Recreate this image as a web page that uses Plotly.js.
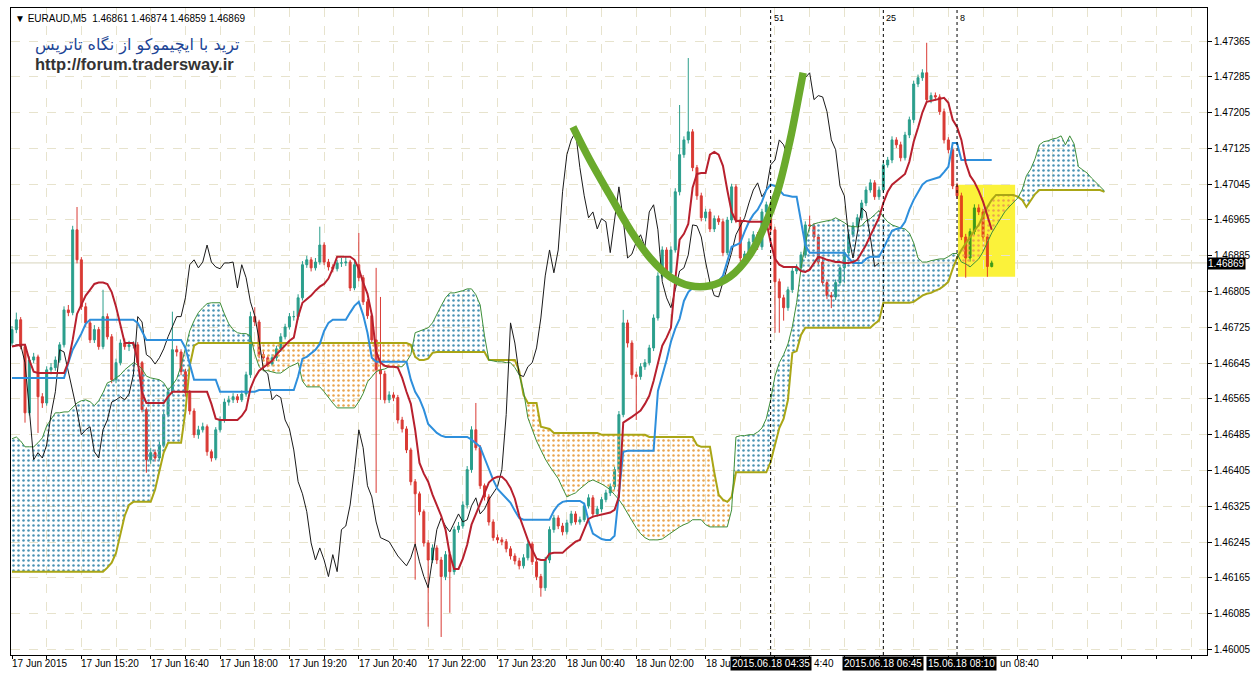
<!DOCTYPE html>
<html><head><meta charset="utf-8">
<script src="https://cdn.plot.ly/plotly-3.0.1.min.js"></script>
<style>html,body{margin:0;padding:0;background:#fff}#chart{width:1251px;height:673px}</style>
</head><body><div id="chart"></div>
<script>
// EURAUD M5, bar 0 = 17 Jun 2015 14:00, one bar per 5 minutes
const opens = [1.46690,1.46720,1.46742,1.46682,1.46534,1.46652,1.46659,1.46570,1.46556,1.46630,
1.46635,1.46652,1.46686,1.46764,1.46758,1.46943,1.46876,1.46771,1.46735,1.46697,
1.46720,1.46682,1.46749,1.46704,1.46608,1.46646,1.46690,1.46682,1.46686,1.46686,
1.46646,1.46541,1.46429,1.46445,1.46433,1.46462,1.46530,1.46581,1.46675,1.46670,
1.46626,1.46579,1.46538,1.46485,1.46496,1.46503,1.46447,1.46433,1.46496,1.46518,
1.46558,1.46563,1.46570,1.46563,1.46576,1.46619,1.46749,1.46737,1.46664,1.46657,
1.46643,1.46657,1.46677,1.46704,1.46726,1.46749,1.46749,1.46791,1.46865,1.46876,
1.46858,1.46871,1.46909,1.46871,1.46860,1.46856,1.46869,1.46869,1.46871,1.46813,
1.46865,1.46836,1.46782,1.46751,1.46697,1.46630,1.46621,1.46563,1.46574,1.46568,
1.46518,1.46498,1.46451,1.46380,1.46353,1.46313,1.46243,1.46205,1.46232,1.46205,
1.46168,1.46217,1.46179,1.46273,1.46281,1.46328,1.46407,1.46496,1.46456,1.46371,
1.46346,1.46290,1.46255,1.46250,1.46246,1.46230,1.46214,1.46203,1.46192,1.46210,
1.46241,1.46201,1.46168,1.46143,1.46205,1.46273,1.46299,1.46281,1.46268,1.46288,
1.46308,1.46290,1.46295,1.46326,1.46344,1.46308,1.46319,1.46340,1.46355,1.46369,
1.46407,1.46530,1.46735,1.46690,1.46619,1.46615,1.46637,1.46646,1.46679,1.46746,
1.46840,1.46898,1.46847,1.46898,1.47028,1.47111,1.47144,1.47162,1.47082,1.47019,
1.46970,1.46983,1.46945,1.46968,1.46961,1.46892,1.46965,1.47039,1.46965,1.46880,
1.46889,1.46916,1.46932,1.46905,1.46983,1.46999,1.46943,1.46827,1.46791,1.46769,
1.46809,1.46851,1.46858,1.46887,1.46954,1.46952,1.46927,1.46871,1.46825,1.46796,
1.46793,1.46825,1.46858,1.46892,1.46932,1.46952,1.46970,1.47003,1.47032,1.47048,
1.47017,1.47032,1.47088,1.47099,1.47144,1.47133,1.47104,1.47155,1.47189,1.47269,
1.47283,1.47294,1.47234,1.47243,1.47240,1.47207,1.47144,1.47122,1.47041,1.47019,
1.46927,1.46880,1.46939,1.46992,1.46983,1.46927,1.46861];

const highs = [1.46728,1.46758,1.46748,1.46688,1.46660,1.46668,1.46664,1.46578,1.46638,1.46645,
1.46660,1.46692,1.46772,1.46775,1.46952,1.46994,1.46882,1.46780,1.46742,1.46730,
1.46726,1.46809,1.46756,1.46710,1.46655,1.46698,1.46700,1.46695,1.46694,1.46692,
1.46650,1.46546,1.46455,1.46452,1.46470,1.46538,1.46590,1.46760,1.46684,1.46676,
1.46632,1.46585,1.46544,1.46505,1.46512,1.46508,1.46452,1.46502,1.46526,1.46566,
1.46572,1.46578,1.46576,1.46584,1.46626,1.46760,1.46770,1.46742,1.46672,1.46662,
1.46665,1.46684,1.46712,1.46733,1.46757,1.46762,1.46799,1.46873,1.46885,1.46882,
1.46880,1.46950,1.46915,1.46878,1.46866,1.46876,1.46880,1.46882,1.46876,1.46872,
1.46936,1.46842,1.46788,1.46756,1.46858,1.46793,1.46628,1.46582,1.46580,1.46574,
1.46525,1.46504,1.46456,1.46386,1.46358,1.46318,1.46250,1.46240,1.46238,1.46212,
1.46225,1.46224,1.46280,1.46290,1.46336,1.46415,1.46504,1.46556,1.46462,1.46376,
1.46352,1.46296,1.46262,1.46256,1.46252,1.46236,1.46220,1.46210,1.46218,1.46248,
1.46246,1.46206,1.46174,1.46212,1.46280,1.46306,1.46305,1.46288,1.46295,1.46315,
1.46314,1.46302,1.46333,1.46352,1.46350,1.46326,1.46346,1.46362,1.46376,1.46414,
1.46538,1.46764,1.46742,1.46696,1.46626,1.46645,1.46654,1.46686,1.46754,1.46848,
1.46906,1.46904,1.46906,1.47036,1.47222,1.47152,1.47327,1.47168,1.47088,1.47026,
1.46990,1.46990,1.46975,1.46975,1.46968,1.46972,1.47046,1.47045,1.46972,1.46896,
1.46924,1.46940,1.46938,1.46990,1.47006,1.47005,1.46950,1.46834,1.46798,1.46816,
1.46858,1.46866,1.46894,1.46962,1.46975,1.46958,1.46934,1.46878,1.46832,1.46804,
1.46832,1.46865,1.46900,1.46940,1.46960,1.46978,1.47010,1.47040,1.47056,1.47054,
1.47040,1.47096,1.47106,1.47152,1.47150,1.47140,1.47162,1.47196,1.47276,1.47290,
1.47302,1.47361,1.47250,1.47250,1.47246,1.47214,1.47150,1.47128,1.47048,1.47026,
1.46934,1.46946,1.47000,1.47000,1.46990,1.46934,1.46874];

const lows = [1.46684,1.46712,1.46676,1.46512,1.46528,1.46645,1.46489,1.46545,1.46550,1.46620,
1.46628,1.46646,1.46680,1.46750,1.46752,1.46868,1.46764,1.46726,1.46690,1.46690,
1.46675,1.46676,1.46698,1.46600,1.46600,1.46640,1.46675,1.46672,1.46678,1.46638,
1.46535,1.46400,1.46420,1.46425,1.46428,1.46456,1.46524,1.46575,1.46660,1.46618,
1.46570,1.46530,1.46478,1.46476,1.46490,1.46438,1.46425,1.46428,1.46490,1.46512,
1.46550,1.46556,1.46556,1.46558,1.46570,1.46612,1.46728,1.46656,1.46650,1.46636,
1.46638,1.46650,1.46670,1.46698,1.46720,1.46740,1.46742,1.46785,1.46858,1.46850,
1.46852,1.46865,1.46864,1.46852,1.46848,1.46850,1.46860,1.46862,1.46806,1.46808,
1.46828,1.46775,1.46744,1.46690,1.46355,1.46563,1.46555,1.46556,1.46560,1.46510,
1.46490,1.46444,1.46372,1.46161,1.46305,1.46235,1.46056,1.46198,1.46196,1.46033,
1.46160,1.46087,1.46172,1.46266,1.46275,1.46320,1.46400,1.46450,1.46364,1.46338,
1.46282,1.46248,1.46242,1.46238,1.46222,1.46206,1.46195,1.46184,1.46186,1.46204,
1.46194,1.46160,1.46123,1.46136,1.46198,1.46266,1.46274,1.46260,1.46262,1.46282,
1.46284,1.46284,1.46290,1.46320,1.46300,1.46302,1.46312,1.46334,1.46348,1.46362,
1.46400,1.46524,1.46680,1.46610,1.46518,1.46608,1.46630,1.46640,1.46672,1.46740,
1.46834,1.46840,1.46840,1.46892,1.47020,1.47104,1.47136,1.47074,1.47010,1.46962,
1.46962,1.46938,1.46938,1.46954,1.46884,1.46886,1.46958,1.46958,1.46872,1.46872,
1.46882,1.46910,1.46898,1.46898,1.46976,1.46935,1.46713,1.46713,1.46740,1.46762,
1.46802,1.46844,1.46850,1.46880,1.46944,1.46920,1.46864,1.46818,1.46788,1.46768,
1.46786,1.46818,1.46825,1.46886,1.46926,1.46946,1.46964,1.46996,1.47026,1.47010,
1.47010,1.47026,1.47082,1.47092,1.47126,1.47096,1.47098,1.47148,1.47182,1.47262,
1.47276,1.47226,1.47226,1.47232,1.47200,1.47136,1.47114,1.47034,1.47012,1.46920,
1.46836,1.46872,1.46932,1.46976,1.46920,1.46838,1.46859];

const closes = [1.46720,1.46742,1.46682,1.46534,1.46652,1.46659,1.46570,1.46556,1.46630,1.46635,
1.46652,1.46686,1.46764,1.46758,1.46943,1.46876,1.46771,1.46735,1.46697,1.46720,
1.46682,1.46749,1.46704,1.46608,1.46646,1.46690,1.46682,1.46686,1.46686,1.46646,
1.46541,1.46429,1.46445,1.46433,1.46462,1.46530,1.46581,1.46675,1.46670,1.46626,
1.46579,1.46538,1.46485,1.46496,1.46503,1.46447,1.46433,1.46496,1.46518,1.46558,
1.46563,1.46570,1.46563,1.46576,1.46619,1.46749,1.46737,1.46664,1.46657,1.46643,
1.46657,1.46677,1.46704,1.46726,1.46749,1.46749,1.46791,1.46865,1.46876,1.46858,
1.46871,1.46909,1.46871,1.46860,1.46856,1.46869,1.46869,1.46871,1.46813,1.46865,
1.46836,1.46782,1.46751,1.46697,1.46630,1.46621,1.46563,1.46574,1.46568,1.46518,
1.46498,1.46451,1.46380,1.46353,1.46313,1.46243,1.46205,1.46232,1.46205,1.46168,
1.46217,1.46179,1.46273,1.46281,1.46328,1.46407,1.46496,1.46456,1.46371,1.46346,
1.46290,1.46255,1.46250,1.46246,1.46230,1.46214,1.46203,1.46192,1.46210,1.46241,
1.46201,1.46168,1.46143,1.46205,1.46273,1.46299,1.46281,1.46268,1.46288,1.46308,
1.46290,1.46295,1.46326,1.46344,1.46308,1.46319,1.46340,1.46355,1.46369,1.46407,
1.46530,1.46735,1.46690,1.46619,1.46615,1.46637,1.46646,1.46679,1.46746,1.46840,
1.46898,1.46847,1.46898,1.47028,1.47111,1.47144,1.47162,1.47082,1.47019,1.46970,
1.46983,1.46945,1.46968,1.46961,1.46892,1.46965,1.47039,1.46965,1.46880,1.46889,
1.46916,1.46932,1.46905,1.46983,1.46999,1.46943,1.46827,1.46791,1.46769,1.46809,
1.46851,1.46858,1.46887,1.46954,1.46952,1.46927,1.46871,1.46825,1.46796,1.46793,
1.46825,1.46858,1.46892,1.46932,1.46952,1.46970,1.47003,1.47032,1.47048,1.47017,
1.47032,1.47088,1.47099,1.47144,1.47133,1.47104,1.47155,1.47189,1.47269,1.47283,
1.47294,1.47234,1.47243,1.47240,1.47207,1.47144,1.47122,1.47041,1.47019,1.46927,
1.46880,1.46939,1.46992,1.46983,1.46927,1.46861,1.46869];

const tenkan = [1.46682,1.46684,1.46686,1.46686,1.46652,1.46626,1.46623,1.46623,1.46623,1.46623,
1.46623,1.46623,1.46623,1.46648,1.46697,1.46755,1.46775,1.46796,1.46809,1.46822,
1.46825,1.46825,1.46822,1.46804,1.46771,1.46733,1.46690,1.46690,1.46690,1.46650,
1.46579,1.46556,1.46556,1.46556,1.46556,1.46556,1.46570,1.46581,1.46581,1.46581,
1.46581,1.46581,1.46581,1.46581,1.46581,1.46581,1.46554,1.46521,1.46518,1.46518,
1.46518,1.46518,1.46518,1.46527,1.46541,1.46588,1.46612,1.46628,1.46635,1.46641,
1.46650,1.46664,1.46675,1.46686,1.46695,1.46702,1.46749,1.46780,1.46787,1.46796,
1.46807,1.46816,1.46822,1.46834,1.46856,1.46883,1.46883,1.46883,1.46883,1.46876,
1.46856,1.46825,1.46800,1.46753,1.46670,1.46646,1.46639,1.46637,1.46637,1.46635,
1.46612,1.46581,1.46554,1.46496,1.46422,1.46398,1.46380,1.46351,1.46326,1.46304,
1.46273,1.46217,1.46185,1.46185,1.46208,1.46239,1.46284,1.46308,1.46333,1.46353,
1.46378,1.46387,1.46391,1.46391,1.46382,1.46366,1.46342,1.46304,1.46277,1.46250,
1.46228,1.46208,1.46205,1.46205,1.46219,1.46221,1.46221,1.46221,1.46230,1.46239,
1.46246,1.46250,1.46275,1.46297,1.46302,1.46304,1.46306,1.46308,1.46311,1.46317,
1.46346,1.46512,1.46518,1.46525,1.46532,1.46539,1.46554,1.46572,1.46605,1.46646,
1.46684,1.46702,1.46724,1.46831,1.46921,1.46934,1.46956,1.47037,1.47068,1.47070,
1.47070,1.47111,1.47117,1.47111,1.47086,1.47032,1.46983,1.46963,1.46963,1.46963,
1.46961,1.46961,1.46961,1.46961,1.46961,1.46916,1.46878,1.46865,1.46860,1.46860,
1.46860,1.46860,1.46851,1.46849,1.46854,1.46869,1.46883,1.46880,1.46876,1.46874,
1.46871,1.46871,1.46869,1.46869,1.46871,1.46876,1.46892,1.46909,1.46930,1.46950,
1.46970,1.47003,1.47028,1.47044,1.47052,1.47059,1.47068,1.47095,1.47140,1.47171,
1.47205,1.47229,1.47231,1.47234,1.47236,1.47238,1.47227,1.47189,1.47173,1.47144,
1.47093,1.47064,1.47050,1.47030,1.47006,1.46977,1.46943];

const kijun = [1.46612,1.46612,1.46612,1.46612,1.46612,1.46612,1.46612,1.46612,1.46612,1.46612,
1.46612,1.46612,1.46612,1.46646,1.46675,1.46693,1.46711,1.46733,1.46742,1.46742,
1.46742,1.46742,1.46742,1.46742,1.46742,1.46742,1.46742,1.46742,1.46742,1.46735,
1.46715,1.46697,1.46697,1.46697,1.46697,1.46697,1.46697,1.46697,1.46697,1.46697,
1.46679,1.46641,1.46608,1.46608,1.46608,1.46608,1.46608,1.46608,1.46581,1.46581,
1.46581,1.46581,1.46581,1.46581,1.46581,1.46581,1.46581,1.46585,1.46585,1.46585,
1.46585,1.46585,1.46585,1.46585,1.46585,1.46585,1.46615,1.46655,1.46659,1.46666,
1.46675,1.46688,1.46717,1.46735,1.46742,1.46742,1.46742,1.46742,1.46758,1.46773,
1.46782,1.46753,1.46713,1.46657,1.46648,1.46648,1.46648,1.46648,1.46648,1.46648,
1.46648,1.46648,1.46608,1.46581,1.46565,1.46541,1.46509,1.46498,1.46489,1.46483,
1.46480,1.46480,1.46480,1.46480,1.46480,1.46480,1.46474,1.46467,1.46458,1.46433,
1.46407,1.46384,1.46364,1.46353,1.46342,1.46333,1.46315,1.46299,1.46295,1.46295,
1.46295,1.46295,1.46295,1.46295,1.46295,1.46315,1.46328,1.46335,1.46337,1.46337,
1.46337,1.46337,1.46331,1.46293,1.46264,1.46257,1.46252,1.46250,1.46250,1.46259,
1.46362,1.46447,1.46449,1.46449,1.46449,1.46449,1.46449,1.46449,1.46449,1.46583,
1.46617,1.46652,1.46693,1.46722,1.46744,1.46784,1.46804,1.46813,1.46816,1.46816,
1.46816,1.46816,1.46822,1.46829,1.46840,1.46871,1.46905,1.46909,1.46914,1.46939,
1.46961,1.46977,1.46988,1.47006,1.47032,1.47044,1.47041,1.47032,1.47021,1.47019,
1.47017,1.47017,1.46961,1.46909,1.46892,1.46892,1.46892,1.46892,1.46892,1.46892,
1.46892,1.46892,1.46892,1.46880,1.46869,1.46869,1.46869,1.46878,1.46883,1.46883,
1.46883,1.46901,1.46921,1.46941,1.46945,1.46947,1.46961,1.46988,1.47010,1.47026,
1.47044,1.47052,1.47055,1.47059,1.47061,1.47072,1.47084,1.47137,1.47137,1.47099,
1.47099,1.47099,1.47099,1.47099,1.47099,1.47099,1.47099];

const senkouA = [1.46476,1.46480,1.46471,1.46458,1.46458,1.46458,1.46467,1.46478,1.46505,1.46521,
1.46534,1.46534,1.46536,1.46536,1.46545,1.46556,1.46561,1.46563,1.46559,1.46550,
1.46561,1.46579,1.46601,1.46605,1.46612,1.46619,1.46630,1.46639,1.46646,1.46641,
1.46632,1.46616,1.46612,1.46610,1.46608,1.46601,1.46585,1.46596,1.46610,1.46639,
1.46679,1.46717,1.46740,1.46758,1.46769,1.46778,1.46780,1.46780,1.46780,1.46755,
1.46733,1.46720,1.46713,1.46711,1.46711,1.46706,1.46666,1.46637,1.46628,1.46628,
1.46626,1.46623,1.46623,1.46630,1.46637,1.46641,1.46646,1.46605,1.46592,1.46592,
1.46592,1.46592,1.46581,1.46568,1.46556,1.46545,1.46545,1.46545,1.46545,1.46545,
1.46559,1.46577,1.46603,1.46615,1.46626,1.46630,1.46632,1.46637,1.46637,1.46637,
1.46637,1.46648,1.46664,1.46713,1.46717,1.46720,1.46724,1.46735,1.46755,1.46773,
1.46791,1.46802,1.46802,1.46804,1.46807,1.46811,1.46811,1.46798,1.46775,1.46706,
1.46652,1.46650,1.46648,1.46648,1.46646,1.46646,1.46635,1.46619,1.46583,1.46523,
1.46496,1.46471,1.46451,1.46431,1.46415,1.46402,1.46387,1.46366,1.46346,1.46351,
1.46355,1.46364,1.46373,1.46380,1.46384,1.46380,1.46375,1.46369,1.46362,1.46351,
1.46340,1.46326,1.46308,1.46293,1.46277,1.46264,1.46255,1.46250,1.46250,1.46250,
1.46252,1.46259,1.46266,1.46273,1.46279,1.46284,1.46288,1.46295,1.46295,1.46295,
1.46284,1.46279,1.46279,1.46279,1.46279,1.46279,1.46317,1.46480,1.46483,1.46483,
1.46485,1.46485,1.46491,1.46500,1.46521,1.46563,1.46616,1.46646,1.46664,1.46688,
1.46726,1.46780,1.46856,1.46914,1.46950,1.46956,1.46959,1.46961,1.46963,1.46965,
1.46970,1.46965,1.46959,1.46952,1.46950,1.46950,1.46952,1.46963,1.46968,1.46977,
1.46986,1.46972,1.46961,1.46954,1.46950,1.46947,1.46945,1.46936,1.46914,1.46880,
1.46871,1.46871,1.46874,1.46876,1.46878,1.46878,1.46883,1.46890,1.46890,1.46871,
1.46867,1.46860,1.46869,1.46878,1.46894,1.46914,1.46936,1.46952,1.46968,1.46983,
1.46994,1.47003,1.47014,1.47032,1.47064,1.47079,1.47102,1.47133,1.47140,1.47142,
1.47146,1.47148,1.47153,1.47133,1.47153,1.47135,1.47084,1.47077,1.47070,1.47059,
1.47050,1.47039,1.47030];

const senkouB = [1.46179,1.46179,1.46179,1.46179,1.46179,1.46179,1.46179,1.46179,1.46179,1.46179,
1.46179,1.46179,1.46179,1.46179,1.46179,1.46179,1.46179,1.46179,1.46179,1.46179,
1.46179,1.46179,1.46188,1.46199,1.46221,1.46261,1.46304,1.46328,1.46335,1.46335,
1.46335,1.46335,1.46335,1.46362,1.46402,1.46445,1.46467,1.46467,1.46467,1.46467,
1.46536,1.46639,1.46684,1.46690,1.46690,1.46690,1.46690,1.46690,1.46690,1.46690,
1.46690,1.46690,1.46690,1.46690,1.46690,1.46690,1.46690,1.46690,1.46690,1.46690,
1.46690,1.46690,1.46690,1.46690,1.46690,1.46690,1.46690,1.46690,1.46690,1.46690,
1.46690,1.46690,1.46690,1.46690,1.46690,1.46690,1.46690,1.46690,1.46690,1.46690,
1.46690,1.46690,1.46690,1.46690,1.46690,1.46690,1.46690,1.46690,1.46690,1.46690,
1.46690,1.46690,1.46686,1.46659,1.46652,1.46652,1.46655,1.46668,1.46670,1.46670,
1.46670,1.46670,1.46670,1.46670,1.46670,1.46670,1.46670,1.46670,1.46670,1.46670,
1.46652,1.46652,1.46652,1.46652,1.46652,1.46652,1.46652,1.46628,1.46574,1.46556,
1.46556,1.46556,1.46503,1.46500,1.46498,1.46489,1.46489,1.46489,1.46489,1.46489,
1.46489,1.46489,1.46489,1.46489,1.46489,1.46489,1.46485,1.46485,1.46485,1.46485,
1.46485,1.46485,1.46485,1.46485,1.46485,1.46485,1.46485,1.46480,1.46480,1.46480,
1.46480,1.46480,1.46480,1.46480,1.46480,1.46480,1.46480,1.46480,1.46462,1.46458,
1.46458,1.46458,1.46401,1.46351,1.46340,1.46335,1.46346,1.46401,1.46401,1.46401,
1.46401,1.46401,1.46401,1.46401,1.46401,1.46424,1.46462,1.46500,1.46521,1.46563,
1.46668,1.46672,1.46708,1.46724,1.46724,1.46724,1.46724,1.46724,1.46724,1.46724,
1.46724,1.46724,1.46724,1.46724,1.46724,1.46724,1.46724,1.46724,1.46724,1.46733,
1.46740,1.46780,1.46780,1.46780,1.46780,1.46780,1.46780,1.46780,1.46782,1.46789,
1.46796,1.46800,1.46802,1.46807,1.46811,1.46818,1.46827,1.46856,1.46880,1.46898,
1.46914,1.46927,1.46941,1.46954,1.46974,1.46994,1.47010,1.47021,1.47021,1.47021,
1.47021,1.47021,1.47017,1.47010,1.46994,1.47010,1.47023,1.47032,1.47032,1.47032,
1.47032,1.47032,1.47032,1.47032,1.47032,1.47032,1.47032,1.47032,1.47032,1.47032,
1.47032,1.47032,1.47028];

const chikouShift = 26;
const yTickVals = [1.46005,1.46085,1.46165,1.46245,1.46325,1.46405,1.46485,1.46565,1.46645,1.46725,1.46805,1.46885,1.46965,1.47045,1.47125,1.47205,1.47285,1.47365];
const yTickText = ['1.46005','1.46085','1.46165','1.46245','1.46325','1.46405','1.46485','1.46565','1.46645','1.46725','1.46805','1.46885','1.46965','1.47045','1.47125','1.47205','1.47285','1.47365'];
// time labels visible on the axis (06:00 and 07:20 are hidden under the line labels)
const xLabelBars = [0,16,32,48,64,80,96,112,128,144,160];
const xLabelText = ['17 Jun 2015','17 Jun 15:20','17 Jun 16:40','17 Jun 18:00','17 Jun 19:20','17 Jun 20:40','17 Jun 22:00','17 Jun 23:20','18 Jun 00:40','18 Jun 02:00','18 Ju'];
const vlineBars = [175,201,218];
const vlineTimes = ['2015.06.18 04:35','2015.06.18 06:45','15.06.18 08:10'];
const vlineCounts = ['51','25','8'];
const tailTexts = ['4:40', 'un 08:40'];
const lastPrice = 1.46869;
const headerText = '\u25BC EURAUD,M5  1.46861 1.46874 1.46859 1.46869';
const boxBars = [218.2, 231.4];
const boxPrices = [1.46838, 1.47044];
const handBars = [129.4,133.3,137.9,142.6,147.2,151.8,156.4,161.0,165.6,170.2,173.7,176.7,179.5,181.1,182.5];
const handPrices = [1.47173,1.47099,1.47021,1.46943,1.46880,1.46838,1.46818,1.46818,1.46838,1.46887,1.46954,1.47032,1.47144,1.47222,1.47294];

const traces = [];
const NA = senkouA.length;
const ax = senkouA.map((_, i) => i);
function crossAt(i) {
  const d0 = senkouA[i] - senkouB[i], d1 = senkouA[i+1] - senkouB[i+1];
  const t = (d0 - d1) === 0 ? 0 : d0 / (d0 - d1);
  return [i + t, senkouA[i] + t * (senkouA[i+1] - senkouA[i])];
}
let start = 0, cur = senkouA[0] >= senkouB[0];
const regions = [];
for (let i = 1; i <= NA; i++) {
  const s = i < NA ? senkouA[i] >= senkouB[i] : null;
  if (i === NA || s !== cur) { regions.push({s: start, e: i - 1, up: cur}); start = i; cur = s; }
}
regions.forEach(r => {
  const xs = [], ys = [];
  if (r.s > 0) { const c = crossAt(r.s - 1); xs.push(c[0]); ys.push(c[1]); }
  for (let i = r.s; i <= r.e; i++) { xs.push(i); ys.push(senkouA[i]); }
  if (r.e < NA - 1) { const c = crossAt(r.e); xs.push(c[0]); ys.push(c[1]); }
  for (let i = r.e; i >= r.s; i--) { xs.push(i); ys.push(senkouB[i]); }
  traces.push({type: 'scatter', mode: 'lines', x: xs, y: ys, fill: 'toself',
    fillcolor: 'rgba(0,0,0,0)', line: {width: 0}, hoverinfo: 'skip',
    fillpattern: {shape: '.', size: 5, solidity: 0.2, fgcolor: r.up ? '#4a93b4' : '#eaa44e', bgcolor: 'rgba(0,0,0,0)'}});
});
traces.push({type: 'scatter', mode: 'lines', x: ax, y: senkouB, line: {color: '#aaa616', width: 2}, hoverinfo: 'skip'});
traces.push({type: 'scatter', mode: 'lines', x: ax, y: senkouA, line: {color: '#3f8f3a', width: 1}, hoverinfo: 'skip'});

const bars = closes.map((_, i) => i);
function candle(idx, inc, dec) {
  return {type: 'candlestick', x: idx, open: idx.map(i => opens[i]), high: idx.map(i => highs[i]),
    low: idx.map(i => lows[i]), close: idx.map(i => closes[i]), whiskerwidth: 0, hoverinfo: 'skip',
    increasing: {line: {color: inc, width: 1}, fillcolor: inc},
    decreasing: {line: {color: dec, width: 1}, fillcolor: dec}};
}
traces.push(candle(bars.filter(i => i < boxBars[0]), '#2b9e8c', '#d93a34'));
traces.push(candle(bars.filter(i => i >= boxBars[0]), '#3e9a1a', '#e2461c'));

const chX = [], chY = [];
for (let i = chikouShift; i < closes.length; i++) { chX.push(i - chikouShift); chY.push(closes[i]); }
traces.push({type: 'scatter', mode: 'lines', x: chX, y: chY, line: {color: '#1a1a1a', width: 1}, hoverinfo: 'skip'});
traces.push({type: 'scatter', mode: 'lines', x: bars, y: kijun, line: {color: '#2e8fdc', width: 2}, hoverinfo: 'skip'});
traces.push({type: 'scatter', mode: 'lines', x: bars, y: tenkan, line: {color: '#b8202e', width: 2}, hoverinfo: 'skip'});
traces.push({type: 'scatter', mode: 'lines', x: handBars, y: handPrices, line: {color: '#6aaa2c', width: 7.5, shape: 'spline', smoothing: 1}, hoverinfo: 'skip'});

const gridBars = [];
for (let b = 0; b <= 272; b += 8) gridBars.push(b);

const ann = [];
ann.push({xref: 'paper', yref: 'paper', x: 0, y: 1, xanchor: 'left', yanchor: 'top', xshift: 2, yshift: -3,
  text: headerText, showarrow: false, font: {family: 'Liberation Sans, DejaVu Sans, sans-serif', size: 10, color: '#000'}});
ann.push({xref: 'paper', yref: 'paper', x: 0, y: 1, xanchor: 'left', yanchor: 'top', xshift: 22, yshift: -25,
  text: 'ترید با ایچیموکو از نگاه تاتریس', showarrow: false, font: {family: 'DejaVu Sans, sans-serif', size: 16, color: '#1d4595'}});
ann.push({xref: 'paper', yref: 'paper', x: 0, y: 1, xanchor: 'left', yanchor: 'top', xshift: 22, yshift: -45,
  text: '<b>http://forum.tradersway.ir</b>', showarrow: false, font: {family: 'Liberation Sans, Arial, sans-serif', size: 16.5, color: '#333'}});
xLabelBars.forEach((b, k) => ann.push({xref: 'x', yref: 'paper', x: b, y: 0, xanchor: 'left', yanchor: 'top', yshift: -1, xshift: -2,
  text: xLabelText[k], showarrow: false, font: {size: 10, color: '#000'}}));
vlineBars.forEach((b, k) => ann.push({xref: 'x', yref: 'paper', x: b, y: 0, xanchor: k === 2 ? 'right' : 'center', yanchor: 'top', yshift: -1,
  xshift: k === 2 ? 40 : 0, text: vlineTimes[k], showarrow: false, bgcolor: '#000', borderpad: 1, font: {size: 10, color: '#fff'}}));
ann.push({xref: 'x', yref: 'paper', x: vlineBars[0], y: 0, xanchor: 'left', yanchor: 'top', yshift: -1, xshift: 41,
  text: tailTexts[0], showarrow: false, font: {size: 10, color: '#000'}});
ann.push({xref: 'x', yref: 'paper', x: vlineBars[2], y: 0, xanchor: 'left', yanchor: 'top', yshift: -1, xshift: 41,
  text: tailTexts[1], showarrow: false, font: {size: 10, color: '#000'}});
vlineBars.forEach((b, k) => ann.push({xref: 'x', yref: 'paper', x: b, y: 1, xanchor: 'left', yanchor: 'top', xshift: 1, yshift: -3,
  text: vlineCounts[k], showarrow: false, font: {size: 9, color: '#000'}}));
ann.push({xref: 'paper', yref: 'y', x: 1, y: lastPrice, xanchor: 'left', yanchor: 'middle', xshift: 0, yshift: -1,
  text: lastPrice.toFixed(5), showarrow: false, bgcolor: '#000', borderpad: 0, font: {size: 10, color: '#fff'}});

const shapes = [];
shapes.push({type: 'rect', xref: 'x', yref: 'y', x0: boxBars[0], x1: boxBars[1], y0: boxPrices[0], y1: boxPrices[1],
  fillcolor: '#fbf23a', line: {width: 0}, layer: 'below'});
shapes.push({type: 'line', xref: 'paper', yref: 'y', x0: 0, x1: 1, y0: lastPrice, y1: lastPrice, line: {color: '#d8d4bc', width: 1}, layer: 'below'});
vlineBars.forEach(b => shapes.push({type: 'line', xref: 'x', yref: 'paper', x0: b, x1: b, y0: 0, y1: 1,
  line: {color: '#000', width: 1, dash: 'dot'}}));

const layout = {
  width: 1251, height: 673, margin: {l: 11, r: 44, t: 8, b: 18, pad: 0},
  paper_bgcolor: '#fff', plot_bgcolor: '#fff', showlegend: false,
  font: {family: 'Liberation Sans, Arial, sans-serif', size: 10, color: '#000'},
  xaxis: {range: [-0.23, 275.66], tickmode: 'array', tickvals: gridBars, ticktext: gridBars.map(() => ''),
    ticks: 'outside', ticklen: 3, tickcolor: '#000', showgrid: true, gridcolor: '#e7e3cd', griddash: 'dash', gridwidth: 1,
    showline: true, linecolor: '#000', linewidth: 1, mirror: true, zeroline: false, rangeslider: {visible: false}, fixedrange: true},
  yaxis: {side: 'right', range: [1.459927, 1.474388], tickmode: 'array', tickvals: yTickVals, ticktext: yTickText,
    ticks: 'outside', ticklen: 4, tickcolor: '#000', showgrid: true, gridcolor: '#e7e3cd', griddash: 'dash', gridwidth: 1,
    showline: true, linecolor: '#000', linewidth: 1, mirror: true, zeroline: false, fixedrange: true,
    tickfont: {size: 10, color: '#000'}},
  annotations: ann, shapes: shapes, boxgap: 0.35
};
Plotly.newPlot('chart', traces, layout, {displayModeBar: false, staticPlot: true});
</script></body></html>
